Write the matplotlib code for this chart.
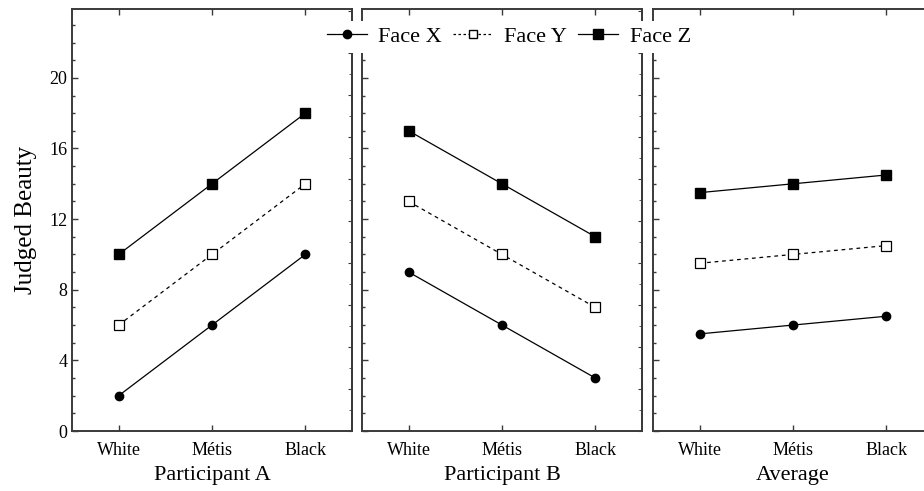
import matplotlib
matplotlib.use("Agg")
import matplotlib.pyplot as plt
from matplotlib.ticker import MultipleLocator, NullFormatter, FixedLocator
from matplotlib.lines import Line2D

plt.rcParams["font.family"] = ["Liberation Serif", "DejaVu Serif"]

categories = ["White", "Métis", "Black"]
panels = ["Participant A", "Participant B", "Average"]

face_x = [[2, 6, 10], [9, 6, 3], [5.5, 6, 6.5]]
face_y = [[6, 10, 14], [13, 10, 7], [9.5, 10, 10.5]]
face_z = [[10, 14, 18], [17, 14, 11], [13.5, 14, 14.5]]
y_ticks = [0, 4, 8, 12, 16, 20]

SPINE = "#3a3a3a"
lefts = [72, 362, 653]
W, H = 924, 491

fig = plt.figure(figsize=(9.24, 4.91), dpi=100)

for i, name in enumerate(panels):
    ax = fig.add_axes([lefts[i] / W, 1 - 431 / H, 280 / W, 422 / H])
    x = range(len(categories))
    ax.plot(x, face_x[i], color="black", lw=0.9, marker="o", ms=6)
    ax.plot(x, face_y[i], color="black", lw=0.9, ls=(0, (3, 3)), marker="s",
            ms=7, mfc="white", mec="black", mew=0.9)
    ax.plot(x, face_z[i], color="black", lw=0.9, marker="s", ms=7.5)
    ax.set_xlim(-0.5, 2.5)
    ax.set_ylim(0, 23.9)
    ax.set_xticks(list(x))
    ax.set_xticklabels(categories, fontsize=13)
    ax.set_xlabel(name, fontsize=16, labelpad=5)
    ax.yaxis.set_major_locator(FixedLocator(y_ticks))
    ax.yaxis.set_minor_locator(MultipleLocator(1))
    ax.tick_params(axis="both", which="major", direction="in", length=4,
                   width=1, color=SPINE, labelsize=13)
    ax.tick_params(axis="y", which="minor", direction="in", length=2, width=1,
                   color=SPINE)
    ax.tick_params(axis="x", top=True, pad=8)
    ax.tick_params(axis="y", right=False, which="both")
    for s in ax.spines.values():
        s.set_color(SPINE)
        s.set_linewidth(1.4)
    if i == 0:
        ax.set_ylabel("Judged Beauty", fontsize=18, labelpad=9)
    else:
        ax.tick_params(axis="y", labelleft=False)
    sec = ax.secondary_yaxis("right", functions=(lambda y: y * 0.84, lambda y: y / 0.84))
    sec.yaxis.set_major_locator(MultipleLocator(2))
    sec.yaxis.set_minor_locator(MultipleLocator(1))
    sec.yaxis.set_major_formatter(NullFormatter())
    sec.tick_params(which="major", direction="in", length=3, color=SPINE)
    sec.tick_params(which="minor", direction="in", length=2, color=SPINE)
    sec.spines["right"].set_color(SPINE)
    sec.spines["right"].set_linewidth(1.4)

handles = [
    Line2D([], [], color="black", lw=0.9, marker="o", ms=6),
    Line2D([], [], color="black", lw=0.9, ls=(0, (2, 2)), marker="s", ms=6,
           mfc="white", mec="black"),
    Line2D([], [], color="black", lw=0.9, marker="s", ms=6.5),
]
leg = fig.legend(handles, ["Face X", "Face Y", "Face Z"], loc="center",
                 bbox_to_anchor=(509 / W, 1 - 37 / H), ncol=3, frameon=True,
                 fontsize=16, handlelength=1.8, columnspacing=0.5,
                 handletextpad=0.5, borderpad=0.25)
leg.get_frame().set_facecolor("white")
leg.get_frame().set_edgecolor("none")
leg.get_frame().set_alpha(1)

fig.savefig("out.png", dpi=100)
